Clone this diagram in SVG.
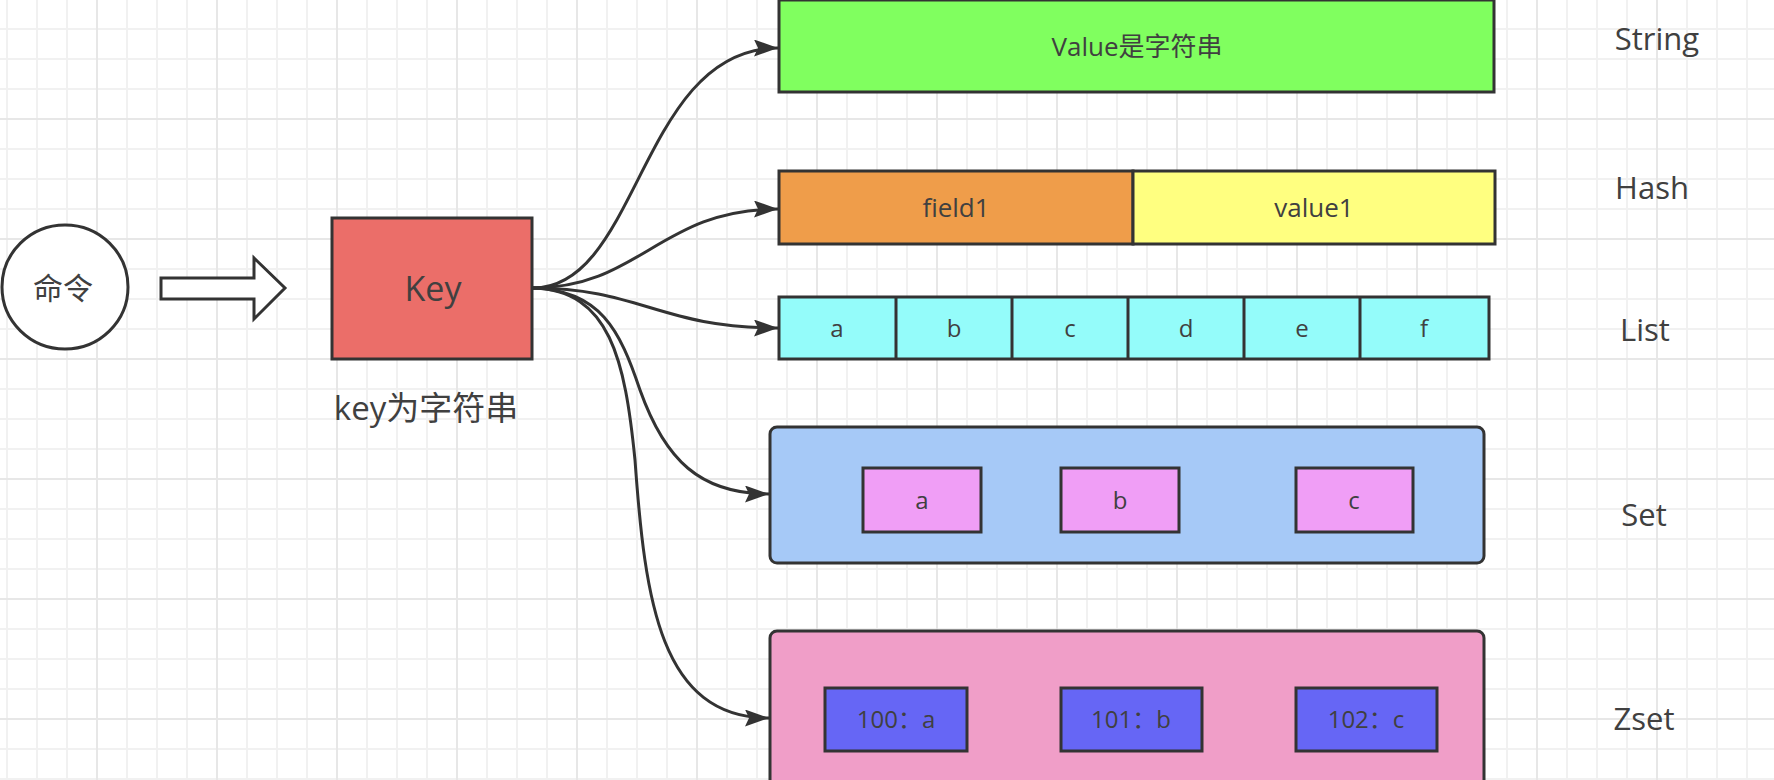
<svg xmlns="http://www.w3.org/2000/svg" width="1774" height="780" viewBox="0 0 1774 780">
<style>
.box{stroke:#333;stroke-width:3}
.t{font-family:"Open Sans","Noto Sans CJK SC",sans-serif;fill:#404040;text-anchor:middle}
.lbl{font-family:"Open Sans","Noto Sans CJK SC",sans-serif;fill:#404040;text-anchor:middle;font-size:31px}
.edge{fill:none;stroke:#333;stroke-width:3}
</style>
<defs>
<pattern id="grid" patternUnits="userSpaceOnUse" x="96" y="-2" width="120" height="120">
<path d="M31 0V120M61 0V120M91 0V120M0 31H120M0 61H120M0 91H120" stroke="#f1f1f1" stroke-width="2"/>
<path d="M1 0V120M0 1H120" stroke="#e7e7e7" stroke-width="2"/>
</pattern>
<marker id="arr" markerUnits="userSpaceOnUse" markerWidth="26" markerHeight="18" refX="24" refY="8.5" orient="auto">
<path d="M0,0 L24,8.5 L0,17 L4,8.5 z" fill="#333"/>
</marker>
</defs>
<rect width="1774" height="780" fill="#fff"/>
<rect width="1774" height="780" fill="url(#grid)"/>

<g id="cmd">
<ellipse class="box" cx="65" cy="287" rx="63" ry="62" fill="#fff"/>
<text class="t" x="63" y="299" font-size="30">命令</text>
</g>
<g id="bigArrow">
<polygon class="box" points="161,278 254,278 254,258 285,288 254,319 254,299 161,299" fill="#fff"/>
</g>
<g id="key">
<rect class="box" x="332" y="218" width="200" height="141" fill="#EB6E69"/>
<text class="t" x="433" y="301" font-size="34">Key</text>
</g>
<g id="keyLabel">
<text class="t" x="426" y="420" font-size="33">key为字符串</text>
</g>

<g id="string">
<rect class="box" x="779" y="0" width="715" height="92" fill="#80FF5F"/>
<text class="t" x="1137" y="56" font-size="26">Value是字符串</text>
</g>
<g id="hash">
<rect class="box" x="779" y="171" width="354" height="73" fill="#EF9D4A"/>
<rect class="box" x="1133" y="171" width="362" height="73" fill="#FFFF80"/>
<text class="t" x="956" y="217" font-size="26">field1</text>
<text class="t" x="1314" y="217" font-size="26">value1</text>
</g>
<g id="list">
<rect class="box" x="779" y="297" width="710" height="62" fill="#94FCFA"/>
<path class="box" d="M896 297V359M1012 297V359M1128 297V359M1244 297V359M1360 297V359" fill="none"/>
<text class="t" x="837" y="337" font-size="24">a</text>
<text class="t" x="954" y="337" font-size="24">b</text>
<text class="t" x="1070" y="337" font-size="24">c</text>
<text class="t" x="1186" y="337" font-size="24">d</text>
<text class="t" x="1302" y="337" font-size="24">e</text>
<text class="t" x="1424" y="337" font-size="24">f</text>
</g>
<g id="set">
<rect class="box" x="770" y="427" width="714" height="136" rx="7" fill="#A6C9F7"/>
<rect class="box" x="863" y="468" width="118" height="64" fill="#F09EF6"/>
<rect class="box" x="1061" y="468" width="118" height="64" fill="#F09EF6"/>
<rect class="box" x="1296" y="468" width="117" height="64" fill="#F09EF6"/>
<text class="t" x="922" y="509" font-size="24">a</text>
<text class="t" x="1120" y="509" font-size="24">b</text>
<text class="t" x="1354" y="509" font-size="24">c</text>
</g>
<g id="zset">
<rect class="box" x="770" y="631" width="714" height="170" rx="7" fill="#F09EC8"/>
<rect class="box" x="825" y="688" width="142" height="63" fill="#6666F5"/>
<rect class="box" x="1061" y="688" width="141" height="63" fill="#6666F5"/>
<rect class="box" x="1296" y="688" width="141" height="63" fill="#6666F5"/>
<text class="t" x="896" y="728" font-size="24">100：a</text>
<text class="t" x="1131" y="728" font-size="24">101：b</text>
<text class="t" x="1366" y="728" font-size="24">102：c</text>
</g>

<g id="labels">
<text class="lbl" x="1657" y="50">String</text>
<text class="lbl" x="1652" y="199">Hash</text>
<text class="lbl" x="1645" y="341">List</text>
<text class="lbl" x="1644" y="526">Set</text>
<text class="lbl" x="1644" y="730">Zset</text>
</g>

<g id="connectors">
<path class="edge" marker-end="url(#arr)" d="M533,288 C640,288 640,48 778,48"/>
<path class="edge" marker-end="url(#arr)" d="M533,288 C640,288 660,209 778,209"/>
<path class="edge" marker-end="url(#arr)" d="M533,288 C640,288 660,328 778,328"/>
<path class="edge" marker-end="url(#arr)" d="M533,288 C600,290 620,330 640,390 C665,460 700,494 769,494"/>
<path class="edge" marker-end="url(#arr)" d="M533,288 C610,290 625,360 635,460 C645,600 660,718 769,718"/>
</g>
</svg>
